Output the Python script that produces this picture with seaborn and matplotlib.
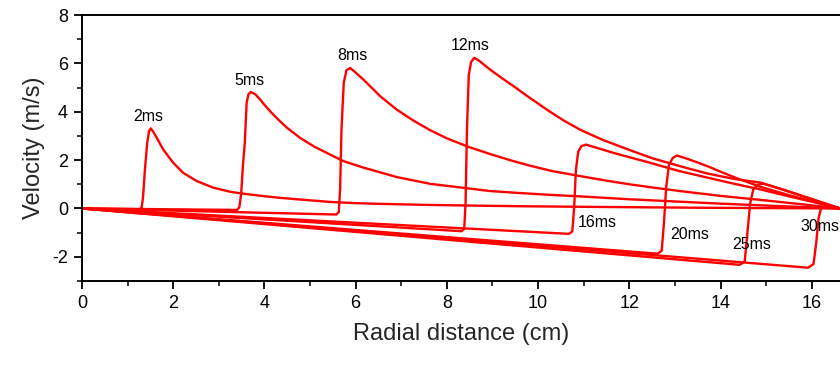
import matplotlib
matplotlib.use("Agg")
import matplotlib.pyplot as plt
import seaborn as sns
import pandas as pd
from matplotlib.ticker import MultipleLocator

sns.set_style("ticks")
plt.rcParams['font.family'] = ['Liberation Sans', 'DejaVu Sans']
plt.rcParams['axes.unicode_minus'] = False

# --- data ---
times = ["2ms", "5ms", "8ms", "12ms", "16ms", "20ms", "25ms", "30ms"]

x_2ms = [0, 1.27, 1.31, 1.34, 1.38, 1.43, 1.47, 1.51, 1.57, 1.64, 1.78, 2.0, 2.22, 2.52, 2.88,
         3.25, 3.54, 3.98, 4.34, 4.78, 5.44, 6.0, 6.54, 7.5, 8.5, 9.7, 10.9, 13.5, 16.62]
v_2ms = [0, -0.03, 0.05, 0.5, 1.61, 2.71, 3.2, 3.31, 3.15, 2.92, 2.44, 1.89, 1.47, 1.13, 0.86,
         0.69, 0.61, 0.51, 0.44, 0.37, 0.27, 0.22, 0.19, 0.15, 0.12, 0.09, 0.07, 0.03, 0]

x_5ms = [0, 3.40, 3.45, 3.49, 3.53, 3.57, 3.61, 3.65, 3.70, 3.8, 3.9, 3.98, 4.15, 4.3, 4.5, 4.78,
         5.1, 5.44, 5.73, 6.17, 6.9, 7.63, 8.47, 8.95, 9.5, 10.2, 10.92, 12.0, 13.1, 14.0, 15.0, 16.62]
v_5ms = [0, -0.06, 0.05, 0.6, 1.8, 2.71, 4.37, 4.72, 4.82, 4.72, 4.52, 4.33, 3.97, 3.68, 3.33, 2.92,
         2.55, 2.23, 1.96, 1.69, 1.3, 1.02, 0.83, 0.72, 0.65, 0.57, 0.5, 0.38, 0.28, 0.2, 0.12, 0]

x_8ms = [0, 5.58, 5.63, 5.66, 5.69, 5.74, 5.80, 5.88, 6.0, 6.17, 6.54, 6.9, 7.27, 7.63, 8.0, 8.47,
         8.95, 9.4, 9.82, 10.3, 10.92, 11.5, 12.0, 12.5, 13.11, 14.0, 14.9, 15.8, 16.62]
v_8ms = [0, -0.25, -0.15, 0.8, 3.3, 5.2, 5.72, 5.81, 5.62, 5.33, 4.64, 4.09, 3.63, 3.24, 2.9, 2.55,
         2.25, 1.99, 1.77, 1.55, 1.34, 1.15, 1.0, 0.87, 0.72, 0.52, 0.35, 0.17, 0]

x_12ms = [0, 8.32, 8.38, 8.41, 8.44, 8.48, 8.53, 8.60, 8.7, 8.95, 9.2, 9.46, 9.8, 10.19, 10.55,
          10.92, 11.4, 12.0, 12.5, 13.11, 13.7, 14.3, 14.87, 15.5, 16.1, 16.62]
v_12ms = [0, -0.94, -0.85, 0.2, 3.2, 5.5, 6.05, 6.23, 6.12, 5.74, 5.4, 5.06, 4.6, 4.09, 3.65,
          3.26, 2.85, 2.42, 2.08, 1.75, 1.45, 1.22, 1.07, 0.7, 0.33, 0]

x_16ms = [0, 10.68, 10.75, 10.79, 10.83, 10.88, 10.95, 11.05, 11.3, 11.65, 12.0, 12.4, 12.75,
          13.11, 13.5, 14.0, 14.4, 14.87, 15.5, 16.1, 16.62]
v_16ms = [0, -1.05, -0.95, 0.0, 1.6, 2.35, 2.58, 2.64, 2.5, 2.3, 2.12, 1.92, 1.73,
          1.54, 1.37, 1.15, 0.98, 0.79, 0.5, 0.24, 0]

x_20ms = [0, 12.62, 12.71, 12.76, 12.81, 12.87, 12.95, 13.04, 13.2, 13.5, 13.75, 14.0, 14.4,
          14.87, 15.3, 15.7, 16.2, 16.62]
v_20ms = [0, -1.87, -1.75, -0.6, 0.9, 1.8, 2.08, 2.19, 2.1, 1.9, 1.72, 1.52, 1.22,
          0.9, 0.66, 0.45, 0.2, 0]

x_25ms = [0, 14.42, 14.53, 14.59, 14.65, 14.72, 14.82, 14.94, 15.2, 15.5, 16.0, 16.3, 16.62]
v_25ms = [0, -2.33, -2.2, -1.0, 0.2, 0.8, 0.98, 1.03, 0.88, 0.7, 0.38, 0.2, 0]

x_30ms = [0, 15.92, 16.04, 16.10, 16.15, 16.20, 16.26, 16.62]
v_30ms = [0, -2.45, -2.3, -1.4, -0.4, -0.02, 0.05, 0]

label_x = [1.45, 3.68, 5.92, 8.51, 11.29, 13.33, 14.69, 16.18]
label_y = [3.8, 5.29, 6.32, 6.73, -0.58, -1.07, -1.49, -0.74]

x_ticks = [0, 2, 4, 6, 8, 10, 12, 14, 16]
y_ticks = [-2, 0, 2, 4, 6, 8]

series_x = [x_2ms, x_5ms, x_8ms, x_12ms, x_16ms, x_20ms, x_25ms, x_30ms]
series_v = [v_2ms, v_5ms, v_8ms, v_12ms, v_16ms, v_20ms, v_25ms, v_30ms]

rows = []
for t, xs, vs in zip(times, series_x, series_v):
    for i, (xx, vv) in enumerate(zip(xs, vs)):
        rows.append({"time": t, "order": i, "x": xx, "v": vv})
df = pd.DataFrame(rows)

fig = plt.figure(figsize=(8.4, 3.65), dpi=100)
ax = fig.add_axes([0.0976, 0.2301, 0.9024, 0.7288])

sns.lineplot(data=df, x="x", y="v", hue="time", palette=["#ff0000"] * len(times),
             sort=False, estimator=None, legend=False, linewidth=1.7, ax=ax)
for ln in ax.get_lines():
    ln.set_solid_joinstyle("round")

for t, lx, ly in zip(times, label_x, label_y):
    ax.text(lx, ly, t, ha="center", va="center", fontsize=11.5, color="black")

ax.set_xlim(0, 16.62)
ax.set_ylim(-3, 8)
ax.set_xticks(x_ticks)
ax.set_yticks(y_ticks)
ax.xaxis.set_minor_locator(MultipleLocator(1))
ax.yaxis.set_minor_locator(MultipleLocator(1))
ax.tick_params(axis="both", which="major", direction="out", length=6, width=1.3,
               labelsize=13, colors="black", pad=4)
ax.tick_params(axis="both", which="minor", direction="out", length=3.5, width=1.3)
ax.spines["right"].set_visible(False)
for s in ["left", "bottom", "top"]:
    ax.spines[s].set_linewidth(1.4)
    ax.spines[s].set_color("black")

ax.set_xlabel("Radial distance (cm)", fontsize=17, labelpad=8)
ax.set_ylabel("Velocity (m/s)", fontsize=17, labelpad=5)

fig.savefig("out.png", dpi=100)
